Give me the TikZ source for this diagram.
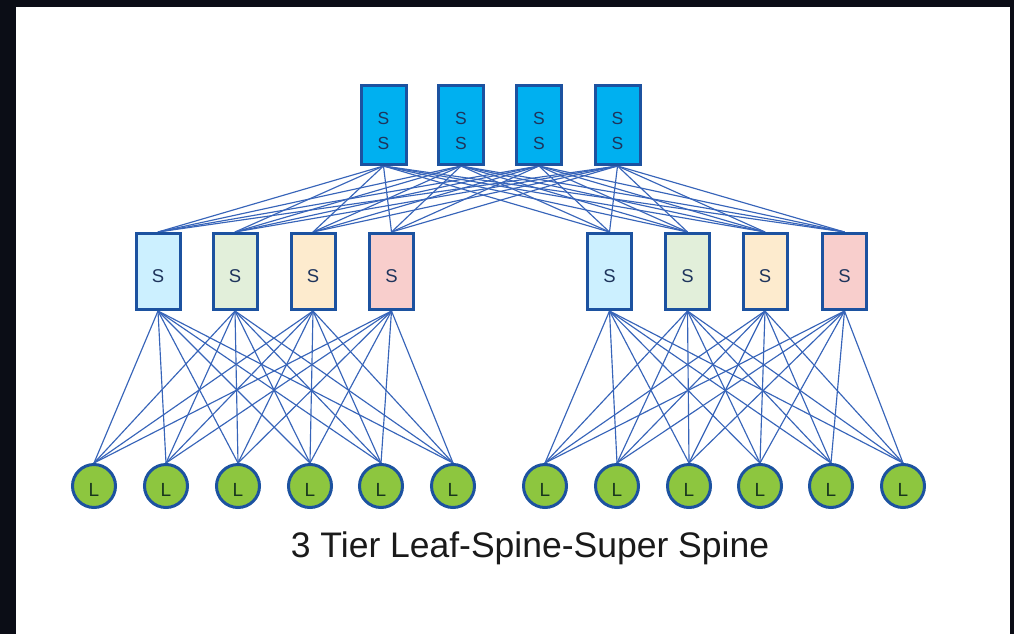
\documentclass[tikz,border=0pt]{standalone}
\usepackage{fontspec}
\setmainfont{Liberation Sans}
\usetikzlibrary{backgrounds}
\definecolor{frame}{RGB}{11,13,22}
\definecolor{edgeblue}{RGB}{28,82,160}
\definecolor{linkblue}{RGB}{55,100,185}
\definecolor{superfill}{RGB}{0,176,240}
\definecolor{cyanfill}{RGB}{204,240,255}
\definecolor{greenfill}{RGB}{226,239,218}
\definecolor{orangefill}{RGB}{253,235,206}
\definecolor{pinkfill}{RGB}{248,206,204}
\definecolor{leaffill}{RGB}{141,198,63}
\definecolor{labelblue}{RGB}{30,52,92}
\definecolor{labelgreen}{RGB}{24,54,30}
\newcommand{\twolines}[2]{\vbox{\baselineskip=25pt\hbox{#1}\hbox{#2}}}
\tikzset{
  superbox/.style={draw=edgeblue, line width=3pt, fill=superfill, minimum width=45pt,
    minimum height=79pt, inner sep=0pt, font=\fontsize{17.5}{20}\selectfont,
    text=labelblue, text height=49pt, text depth=0pt},
  spinebox/.style={draw=edgeblue, line width=3pt, minimum width=44pt, minimum height=76pt,
    inner sep=0pt, font=\fontsize{18.5}{20}\selectfont, text=labelblue, text height=23pt},
  leafnode/.style={circle, draw=edgeblue, line width=3pt, fill=leaffill, minimum size=43pt,
    inner sep=0pt, font=\fontsize{19}{20}\selectfont, text=labelgreen, text height=21pt},
  link/.style={draw=linkblue, line width=1.15pt},
}
\begin{document}
\begin{tikzpicture}[x=1pt, y=-1pt]
  % super spine tier
  \foreach \i/\x in {1/383.5, 2/461, 3/539, 4/617.5}
    \node[superbox] (ss\i) at (\x,125) {\twolines{S}{S}};

  % spine tier, two pods
  \foreach \i/\x/\c in {1/158/cyanfill, 2/235/greenfill, 3/313/orangefill, 4/391.5/pinkfill,
                         5/609.5/cyanfill, 6/687.5/greenfill, 7/765/orangefill, 8/844.5/pinkfill}
    \node[spinebox, fill=\c] (sp\i) at (\x,271.5) {S};

  % leaf tier, two pods
  \foreach \i/\x in {1/94, 2/166, 3/238, 4/310, 5/381, 6/453,
                     7/545, 8/617, 9/689, 10/760, 11/831, 12/903}
    \node[leafnode] (lf\i) at (\x,486) {L};

  \begin{scope}[on background layer]
    % page frame and white canvas
    \fill[frame] (0,0) rectangle (1014,634);
    \fill[white] (16,7) rectangle (1010,634);
    % every super spine reaches every spine
    \foreach \a in {1,...,4}
      \foreach \b in {1,...,8}
        \draw[link] (ss\a.south) -- (sp\b.north);
    % pod 1: spines 1-4 to leaves 1-6
    \foreach \a in {1,...,4}
      \foreach \b in {1,...,6}
        \draw[link] (sp\a.south) -- (lf\b.north);
    % pod 2: spines 5-8 to leaves 7-12
    \foreach \a in {5,...,8}
      \foreach \b in {7,...,12}
        \draw[link] (sp\a.south) -- (lf\b.north);
  \end{scope}

  \node[font=\fontsize{35.5}{40}\selectfont, text={rgb,255:red,26;green,26;blue,26}]
    (title) at (530,548) {3 Tier Leaf-Spine-Super Spine};
\end{tikzpicture}
\end{document}
